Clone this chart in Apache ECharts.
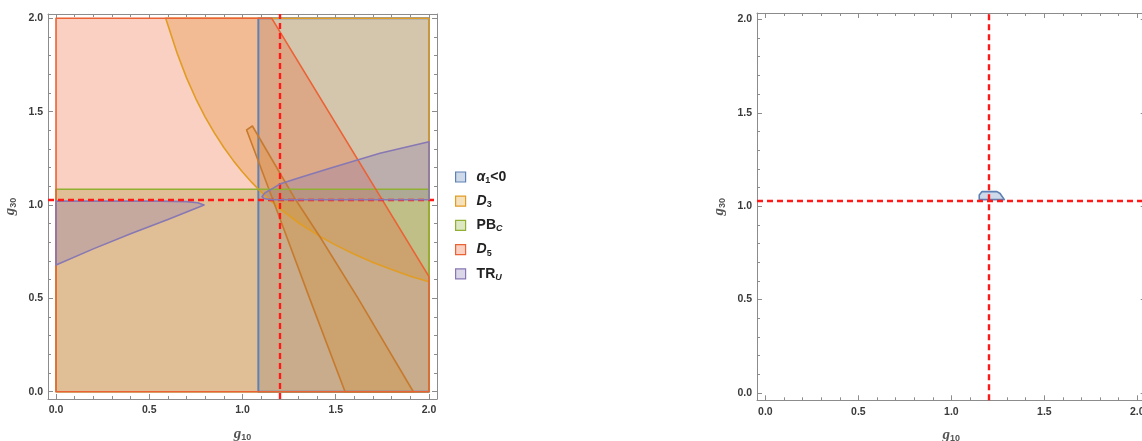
<!DOCTYPE html>
<html>
<head>
<meta charset="utf-8">
<script src="https://cdn.jsdelivr.net/npm/echarts@6/dist/echarts.min.js"></script>
<style>
html,body{margin:0;padding:0;background:#fff;}
#chart{width:1142px;height:441px;}
</style>
</head>
<body>
<div id="chart"></div>
<script>
// ---- tick data ----
const majorTicks = [0, 0.5, 1, 1.5, 2];
const tickLabels = ['0.0', '0.5', '1.0', '1.5', '2.0'];
const minorTicks = [0, 0.1, 0.2, 0.3, 0.4, 0.5, 0.6, 0.7, 0.8, 0.9, 1.0, 1.1, 1.2, 1.3, 1.4, 1.5, 1.6, 1.7, 1.8, 1.9, 2.0];

// ---- legend / series names ----
const seriesNames = ['α1<0', 'D3', 'PBC', 'D5', 'TRU'];

// ---- reference (dashed) lines ----
const refG10 = 1.2;
const refG30 = 1.035;

// ---- region outlines (g10, g30) ----
const alphaNeg = [[1.085, 0], [2, 0], [2, 2], [1.085, 2]];
const d3Upper = [[0.588, 2], [0.65, 1.811], [0.7, 1.681], [0.75, 1.569], [0.8, 1.471], [0.85, 1.385],
  [0.9, 1.308], [0.95, 1.239], [1.0, 1.177], [1.05, 1.121], [1.09, 1.080], [1.15, 1.023], [1.2, 0.981],
  [1.3, 0.905], [1.4, 0.841], [1.5, 0.785], [1.6, 0.736], [1.7, 0.692], [1.8, 0.654], [1.9, 0.619],
  [2.0, 0.589], [2, 2]];
const d3Sliver = [[1.022, 1.402], [1.053, 1.423], [1.28, 1.036], [1.415, 0.83], [1.62, 0.5], [1.916, 0],
  [1.55, 0], [1.36, 0.5], [1.16, 1.036]];
const pbC = [[0, 0], [2, 0], [2, 1.084], [0, 1.084]];
const d5 = [[0, 0], [2, 0], [2, 0.616], [1.157, 2], [0, 2]];
const truLeft = [[0, 1.021], [0.55, 1.021], [0.7, 1.018], [0.76, 1.012], [0.794, 1.0], [0.6, 0.923],
  [0.4, 0.846], [0.2, 0.765], [0, 0.679]];
const truRight = [[1.105, 1.045], [1.12, 1.065], [1.147, 1.08], [1.2, 1.112], [1.3, 1.145], [1.469, 1.197],
  [1.737, 1.277], [2, 1.339], [2, 1.028], [1.15, 1.028], [1.115, 1.035]];
// right panel: single small region
const alphaNegRight = [[1.15, 1.035], [1.15, 1.06], [1.165, 1.078], [1.245, 1.078], [1.262, 1.068], [1.285, 1.035]];

// ---- styling ----
const COL = {
  blue: '#5E81B5', orange: '#E19C24', green: '#8FB032', red: '#EB6235', purple: '#8778B3'
};
function rgba(hex, a) {
  const n = parseInt(hex.slice(1), 16);
  return 'rgba(' + (n >> 16 & 255) + ',' + (n >> 8 & 255) + ',' + (n & 255) + ',' + a + ')';
}
const FILL_A = 0.3;
const labelColor = '#3a3a3a';
const frameColor = '#8c8c8c';

function fmtTick(v) {
  for (let i = 0; i < majorTicks.length; i++) if (Math.abs(majorTicks[i] - v) < 1e-6) return tickLabels[i];
  return '';
}

function makeAxes(dim, gridIndex, min, max, name) {
  const isX = dim === 'x';
  const posA = isX ? 'bottom' : 'left';
  const posB = isX ? 'top' : 'right';
  const base = { type: 'value', gridIndex: gridIndex, min: min, max: max, splitLine: { show: false } };
  const nameStyle = {
    rich: {
      i: { fontFamily: 'Liberation Serif', fontStyle: 'italic', fontWeight: 'bold', fontSize: 15, color: '#555' },
      s: { fontFamily: 'Liberation Sans', fontWeight: 'bold', fontSize: 9, color: '#555', padding: [7, 0, 0, 0] }
    }
  };
  return [
    Object.assign({}, base, {
      position: posA,
      name: name, nameLocation: 'middle', nameGap: isX ? 27 : 30, nameTextStyle: nameStyle,
      axisLine: { show: true, onZero: false, lineStyle: { color: frameColor, width: 1 } },
      axisTick: { show: true, inside: true, length: 5, customValues: majorTicks, lineStyle: { color: frameColor } },
      axisLabel: { show: true, customValues: majorTicks, formatter: fmtTick, margin: isX ? 6 : 5,
        color: labelColor, fontFamily: 'Liberation Sans', fontWeight: 'bold', fontSize: 10.5 }
    }),
    Object.assign({}, base, {
      position: posA,
      axisLine: { show: false, onZero: false },
      axisTick: { show: true, inside: true, length: 3, customValues: minorTicks, lineStyle: { color: frameColor } },
      axisLabel: { show: false }
    }),
    Object.assign({}, base, {
      position: posB,
      axisLine: { show: true, onZero: false, lineStyle: { color: frameColor, width: 1 } },
      axisTick: { show: true, inside: true, length: 5, customValues: majorTicks, lineStyle: { color: frameColor } },
      axisLabel: { show: false }
    }),
    Object.assign({}, base, {
      position: posB,
      axisLine: { show: false, onZero: false },
      axisTick: { show: true, inside: true, length: 3, customValues: minorTicks, lineStyle: { color: frameColor } },
      axisLabel: { show: false }
    })
  ];
}

function polySeries(name, poly, axisIdx, fill, stroke, strokeWidth, z) {
  return {
    type: 'custom', name: name, xAxisIndex: axisIdx, yAxisIndex: axisIdx, z: z,
    silent: true, animation: false,
    data: poly, encode: { x: 0, y: 1 },
    renderItem: function (params, api) {
      if (params.dataIndex !== 0) return null;
      const pts = poly.map(function (p) { return api.coord(p); });
      return {
        type: 'polygon',
        shape: { points: pts },
        style: { fill: fill || 'none', stroke: stroke || 'none', lineWidth: strokeWidth || 0, lineJoin: 'round' }
      };
    }
  };
}

// regions of left panel in drawing order
const regionsLeft = [
  { name: seriesNames[0], poly: alphaNeg, color: COL.blue, stroke: COL.blue },
  { name: seriesNames[1], poly: d3Upper, color: COL.orange, stroke: COL.orange },
  { name: seriesNames[1], poly: d3Sliver, color: COL.orange, stroke: '#C67A2E' },
  { name: seriesNames[2], poly: pbC, color: COL.green, stroke: COL.green },
  { name: seriesNames[3], poly: d5, color: COL.red, stroke: COL.red },
  { name: seriesNames[4], poly: truLeft, color: COL.purple, stroke: COL.purple },
  { name: seriesNames[4], poly: truRight, color: COL.purple, stroke: COL.purple }
];

const series = [];
regionsLeft.forEach(function (r, i) {
  series.push(polySeries(r.name, r.poly, 0, rgba(r.color, FILL_A), null, 0, 2 + i * 0.01));
});
regionsLeft.forEach(function (r, i) {
  series.push(polySeries(r.name, r.poly, 0, null, r.stroke, r.poly === alphaNeg ? 2 : 1.6, 3 + i * 0.01));
});
const dashStyle = { type: [6, 4], color: '#FF1A1A', width: 2.4 };
function refLines() {
  return {
    silent: true, symbol: 'none', animation: false, label: { show: false },
    lineStyle: dashStyle,
    data: [{ xAxis: refG10 }, { yAxis: refG30 }]
  };
}
series[series.length - 1].markLine = refLines();
series[series.length - 1].z = 5;

// right panel
series.push(polySeries('right-region', alphaNegRight, 4, rgba(COL.blue, FILL_A), COL.blue, 1.6, 3));
series[series.length - 1].markLine = refLines();

function legendFmt(name) {
  switch (name) {
    case 'α1<0': return '{ib|α}{sb|1}{b|<0}';
    case 'D3': return '{ib|D}{sb|3}';
    case 'PBC': return '{b|PB}{si|C}';
    case 'D5': return '{ib|D}{sb|5}';
    case 'TRU': return '{b|TR}{si|U}';
  }
  return name;
}
const legendColors = [COL.blue, COL.orange, COL.green, COL.red, COL.purple];

const option = {
  backgroundColor: '#fff',
  animation: false,
  grid: [
    { left: 48, top: 14, width: 389, height: 385, containLabel: false, outerBoundsMode: 'none' },
    { left: 757, top: 13, width: 388.7, height: 387.3, containLabel: false, outerBoundsMode: 'none' }
  ],
  xAxis: [].concat(makeAxes('x', 0, -0.043, 2.043, '{i|g}{s|10}'), makeAxes('x', 1, -0.045, 2.045, '{i|g}{s|10}')),
  yAxis: [].concat(makeAxes('y', 0, -0.039, 2.023, '{i|g}{s|30}'), makeAxes('y', 1, -0.039, 2.034, '{i|g}{s|30}')),
  legend: {
    orient: 'vertical', left: 455, top: 169, padding: 0,
    itemWidth: 10, itemHeight: 10, itemGap: 8.2,
    icon: 'rect',
    selectedMode: false,
    data: seriesNames.map(function (n, i) {
      return { name: n, icon: 'rect', itemStyle: { color: rgba(legendColors[i], 0.3), borderColor: legendColors[i], borderWidth: 1.2 } };
    }),
    formatter: legendFmt,
    textStyle: {
      color: '#222', fontSize: 14, lineHeight: 16, padding: [0, 0, 0, 6],
      rich: {
        b: { fontFamily: 'Liberation Sans', fontWeight: 'bold', fontSize: 14, color: '#222' },
        ib: { fontFamily: 'Liberation Sans', fontStyle: 'italic', fontWeight: 'bold', fontSize: 14, color: '#222' },
        sb: { fontFamily: 'Liberation Sans', fontWeight: 'bold', fontSize: 9, color: '#222', padding: [7, 0, 0, 0] },
        si: { fontFamily: 'Liberation Sans', fontStyle: 'italic', fontWeight: 'bold', fontSize: 9, color: '#222', padding: [7, 0, 0, 0] }
      }
    }
  },
  series: series
};

const chart = echarts.init(document.getElementById('chart'), null, { renderer: 'canvas' });
chart.setOption(option);
</script>
</body>
</html>
